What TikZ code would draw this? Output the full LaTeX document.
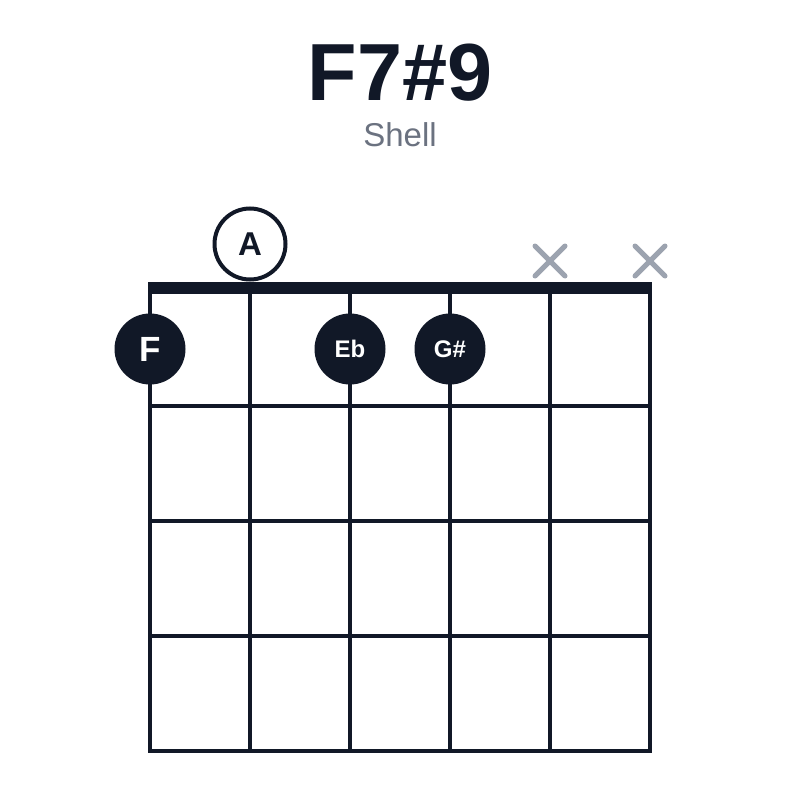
\documentclass[tikz,border=0pt]{standalone}
\usepackage{fontspec}
\setmainfont{Liberation Sans}
\usetikzlibrary{calc}
\definecolor{ink}{HTML}{111827}
\definecolor{xgray}{HTML}{9CA3AF}
\definecolor{subgray}{HTML}{6B7280}
\begin{document}
\begin{tikzpicture}[x=1pt,y=-1pt,
  gridline/.style={draw=ink,line width=4pt},
  fingered/.style={circle,fill=ink,minimum size=71pt,inner sep=0pt,text=white},
  opennote/.style={circle,draw=ink,line width=4pt,fill=white,minimum size=71pt,inner sep=0pt,text=ink},
  mutedx/.style={draw=xgray,line width=5pt,line cap=round}]
\useasboundingbox[fill=white] (0,0) rectangle (800,800);
% title
\node[text=ink,anchor=base,font=\fontsize{81}{81}\selectfont\bfseries] (title) at (400,100) {F7\#9};
\node[text=subgray,anchor=base,font=\fontsize{33}{33}\selectfont] (sub) at (400,146) {Shell};
% strings
\foreach \i in {0,...,5} {
  \draw[gridline] (150+100*\i,291) -- (150+100*\i,751);
}
% frets
\foreach \j in {1,...,4} {
  \draw[gridline] (148,291+115*\j) -- (652,291+115*\j);
}
% nut
\fill[ink] (148,282) rectangle (652,294);
% open string note
\node[opennote,font=\fontsize{33}{33}\selectfont\bfseries] (nA) at (250,244) {A};
% muted strings
\foreach \x/\n in {550/m5,650/m6} {
  \coordinate (\n) at (\x,261);
  \draw[mutedx] ($(\n)+(-15,-15)$) -- ($(\n)+(15,15)$);
  \draw[mutedx] ($(\n)+(-15,15)$) -- ($(\n)+(15,-15)$);
}
% fingered notes
\node[fingered,font=\fontsize{35}{35}\selectfont\bfseries] (nF) at (150,349) {F};
\node[fingered,font=\fontsize{24}{24}\selectfont\bfseries] (nEb) at (350,349) {\raisebox{-2pt}{Eb}};
\node[fingered,font=\fontsize{24}{24}\selectfont\bfseries] (nGs) at (450,349) {\raisebox{-2pt}{G\#}};
\end{tikzpicture}
\end{document}
